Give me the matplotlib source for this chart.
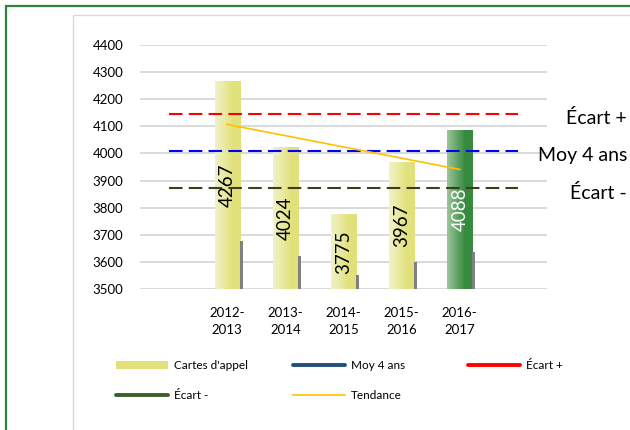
import numpy as np
import matplotlib
matplotlib.use('Agg')
import matplotlib.pyplot as plt
from matplotlib.patches import Rectangle, Patch
from matplotlib.lines import Line2D
from matplotlib.colors import LinearSegmentedColormap

plt.rcParams['font.family'] = ['Lato', 'DejaVu Sans']

# donnees
annees = ['2012-\n2013', '2013-\n2014', '2014-\n2015', '2015-\n2016', '2016-\n2017']
cartes = [4267, 4024, 3775, 3967, 4088]
ombre = [3677, 3622, 3552, 3600, 3636]
moy = 4008
ecart_plus = 4145
ecart_moins = 3871
tendance = [4107, 3941]

x = np.arange(len(cartes))
w = 0.43

fig = plt.figure(figsize=(6.3, 4.3), dpi=100)
ax = fig.add_axes([140/630, 1-289/430, 407/630, 244/430])

# barres avec degrade
jaune = LinearSegmentedColormap.from_list('j', ['#f2f2c8', '#e1e17c'])
vert = LinearSegmentedColormap.from_list('v', ['#9cc49c', '#368a3e'])
grad = np.clip(np.linspace(0, 1, 50) / 0.7, 0, 1).reshape(1, -1)
bars = ax.bar(x, cartes, w, bottom=0, color='none', edgecolor='none', zorder=2)
for i, b in enumerate(bars):
    cm = vert if i == len(cartes)-1 else jaune
    im = ax.imshow(grad, cmap=cm, aspect='auto', vmin=0, vmax=1,
                   extent=[b.get_x(), b.get_x()+w, 3500, cartes[i]], zorder=2)
    im.set_clip_path(b)

ax.bar(x + w/2, [o - 3500 for o in ombre], 0.05, bottom=3500, align='edge',
       color='#808080', zorder=2)

lbl = ax.bar(x, [c - 3500 for c in cartes], w, bottom=3500, color='none', zorder=3)
txt = ax.bar_label(lbl, labels=[str(c) for c in cartes], label_type='center',
                   rotation=90, fontsize=13.5)
txt[-1].set_color('white')

# lignes
dash = (0, (6.5, 3))
ax.plot([-1, 5], [ecart_plus]*2, color='#ff0000', lw=1.5, ls=dash, zorder=4)
ax.plot([-1, 5], [moy]*2, color='#0000ff', lw=1.5, ls=dash, zorder=4)
ax.plot([-1, 5], [ecart_moins]*2, color='#403c1c', lw=1.5, ls=dash, zorder=4)
ax.plot([0, 4], tendance, color='#ffc000', lw=1.2, zorder=5)

for s, v in [('Écart +', ecart_plus), ('Moy 4 ans', moy), ('Écart -', ecart_moins)]:
    ax.annotate(s, xy=(627/630, v), xycoords=('figure fraction', 'data'),
                xytext=(0, -3), textcoords='offset points',
                ha='right', va='center', fontsize=14, annotation_clip=False)

ax.set_xlim(-1.5, 5.5)
ax.set_ylim(3500, 4400)
ax.set_yticks(range(3500, 4401, 100))
ax.set_xticks(x)
ax.set_xticklabels(annees, fontsize=9.5, linespacing=1.45)
ax.tick_params(axis='y', labelsize=9.5, length=0, pad=12)
ax.tick_params(axis='x', length=0, pad=13)
ax.grid(axis='y', color='#d9d9d9', lw=1.4)
ax.set_axisbelow(True)
for sp in ax.spines.values():
    sp.set_visible(False)

# legende
kw = dict(frameon=False, fontsize=8.5, borderpad=0, borderaxespad=0,
          handlelength=4.4, handletextpad=0.5, labelspacing=1.6, loc='upper left')
top = 1 - 360/430
fig.legend(handles=[Patch(facecolor='#e1e17c', edgecolor='none', label="Cartes d'appel"),
                    Line2D([], [], color='#3c5f2c', lw=2.8, solid_capstyle='round', label='Écart -')],
           bbox_to_anchor=(116/630, top), **kw)
fig.legend(handles=[Line2D([], [], color='#1f4e79', lw=2.8, solid_capstyle='round', label='Moy 4 ans'),
                    Line2D([], [], color='#ffc000', lw=1.2, label='Tendance')],
           bbox_to_anchor=(293/630, top), **kw)
fig.legend(handles=[Line2D([], [], color='#ff0000', lw=2.8, solid_capstyle='round', label='Écart +')],
           bbox_to_anchor=(468/630, top), **kw)

# cadres
fig.patches.append(Rectangle((73/630, -0.1), 1.0, 1.1 - 15/430, transform=fig.transFigure,
                             fill=False, edgecolor='#d9d9d9', lw=1.0))
fig.patches.append(Rectangle((6/630, -0.1), 1.0, 1.1 - 6.5/430, transform=fig.transFigure,
                             fill=False, edgecolor='#31823a', lw=1.6))

fig.savefig('out.png', dpi=100)
